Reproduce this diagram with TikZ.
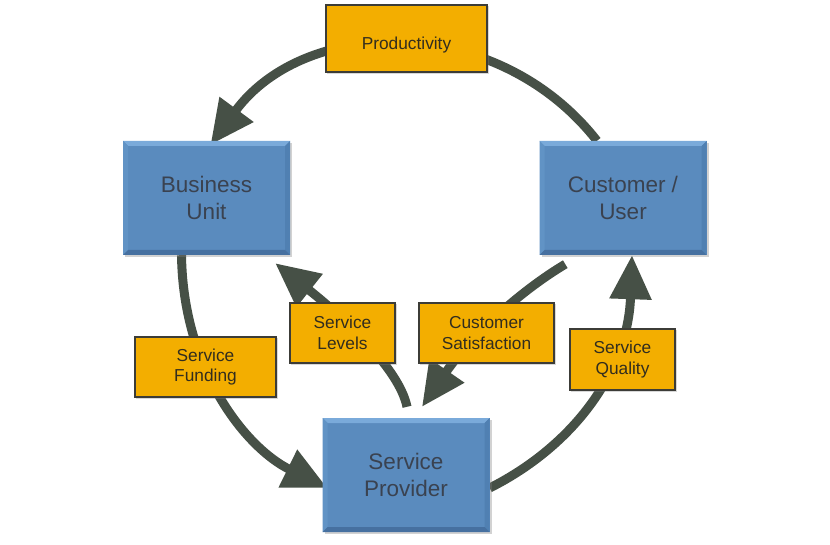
\documentclass[tikz,border=0pt]{standalone}
\usepackage{fontspec}
\setmainfont{Liberation Sans}
\usetikzlibrary{arrows.meta,shadows,calc}
\pgfdeclarelayer{backdrop}
\pgfdeclarelayer{bg}
\pgfsetlayers{backdrop,bg,main}
\definecolor{boxblue}{RGB}{90,139,190}
\definecolor{bluetop}{RGB}{122,170,218}
\definecolor{blueleft}{RGB}{97,147,197}
\definecolor{blueright}{RGB}{80,128,178}
\definecolor{bluebot}{RGB}{70,112,160}
\definecolor{boxtext}{RGB}{58,66,80}
\definecolor{orangefill}{RGB}{243,174,0}
\definecolor{orangeedge}{RGB}{60,60,55}
\definecolor{orangetext}{RGB}{50,45,30}
\definecolor{arrowgray}{RGB}{70,80,70}
\begin{document}
\begin{tikzpicture}[x=1pt,y=-1pt,
  bluebox/.style={minimum width=167pt, minimum height=114pt, inner sep=0pt,
    fill=boxblue, text=boxtext, align=center,
    font=\fontsize{22.5}{27}\selectfont,
    drop shadow={opacity=0.35, shadow xshift=2pt, shadow yshift=-2pt},
    path picture={
      \fill[bluetop] (path picture bounding box.north west) -- (path picture bounding box.north east)
        -- ([xshift=-5pt,yshift=-5pt]path picture bounding box.north east)
        -- ([xshift=5pt,yshift=-5pt]path picture bounding box.north west) -- cycle;
      \fill[blueleft] (path picture bounding box.north west) -- (path picture bounding box.south west)
        -- ([xshift=5pt,yshift=5pt]path picture bounding box.south west)
        -- ([xshift=5pt,yshift=-5pt]path picture bounding box.north west) -- cycle;
      \fill[blueright] (path picture bounding box.north east) -- (path picture bounding box.south east)
        -- ([xshift=-5pt,yshift=5pt]path picture bounding box.south east)
        -- ([xshift=-5pt,yshift=-5pt]path picture bounding box.north east) -- cycle;
      \fill[bluebot] (path picture bounding box.south west) -- (path picture bounding box.south east)
        -- ([xshift=-5pt,yshift=5pt]path picture bounding box.south east)
        -- ([xshift=5pt,yshift=5pt]path picture bounding box.south west) -- cycle;
    }},
  orangebox/.style={minimum height=60.5pt, inner sep=0pt, fill=orangefill,
    draw=orangeedge, line width=1.6pt, text=orangetext, align=center,
    font=\fontsize{17.3}{20.5}\selectfont,
    drop shadow={opacity=0.3, shadow xshift=1.5pt, shadow yshift=-1.5pt}},
  flow/.style={draw=arrowgray, line width=9pt},
  flowtip/.style={flow, -{Triangle[length=44pt,width=40pt]}}
]
\useasboundingbox (0,0) rectangle (830,545);
\begin{pgfonlayer}{backdrop}
\fill[white] (0,0) rectangle (830,545);
\end{pgfonlayer}

\node[bluebox] (bu) at (206.5,198) {Business\\Unit};
\node[bluebox] (cu) at (623,198) {Customer /\\User};
\node[bluebox] (sp) at (406,475) {Service\\Provider};

\node[orangebox, minimum width=161.5pt, minimum height=67.5pt] (prod) at (406.5,38.5) {\raisebox{-11.5pt}[0pt][0pt]{Productivity}};
\node[orangebox, minimum width=141.5pt] (sf) at (205.5,367) {Service\\Funding};
\node[orangebox, minimum width=105.5pt] (sl) at (342.5,333) {Service\\Levels};
\node[orangebox, minimum width=135.5pt] (cs) at (486.5,333) {Customer\\Satisfaction};
\node[orangebox, minimum width=105.5pt, minimum height=61.5pt] (sq) at (622.5,359.5) {Service\\Quality};

\begin{pgfonlayer}{bg}
  % Customer/User -> Productivity -> Business Unit
  \draw[flowtip] ([xshift=-26pt]cu.north) .. controls (497.5,13.7) and (306,15.2) .. ([xshift=4pt,yshift=-4pt]bu.north);
  % Business Unit -> Service Funding -> Service Provider
  \draw[flowtip] ([xshift=-25pt]bu.south) .. controls (183,370) and (246,448) .. ([xshift=5pt,yshift=-13pt]sp.west);
  % Service Provider -> Service Quality -> Customer/User
  \draw[flowtip] ([yshift=-13pt]sp.east) .. controls (575,445) and (628,370) .. ([xshift=9pt]cu.south);
  % Service Provider -> Service Levels -> Business Unit
  \draw[flowtip] ([xshift=1pt,yshift=11pt]sp.north) .. controls (399,367) and (338,313) .. ([xshift=-15pt,yshift=-8pt]bu.south east);
  % Customer/User -> Customer Satisfaction -> Service Provider
  \draw[flowtip] ([xshift=26pt,yshift=-9pt]cu.south west) .. controls (523.5,289) and (473,333) .. ([xshift=16pt,yshift=11pt]sp.north);
\end{pgfonlayer}
\end{tikzpicture}
\end{document}
